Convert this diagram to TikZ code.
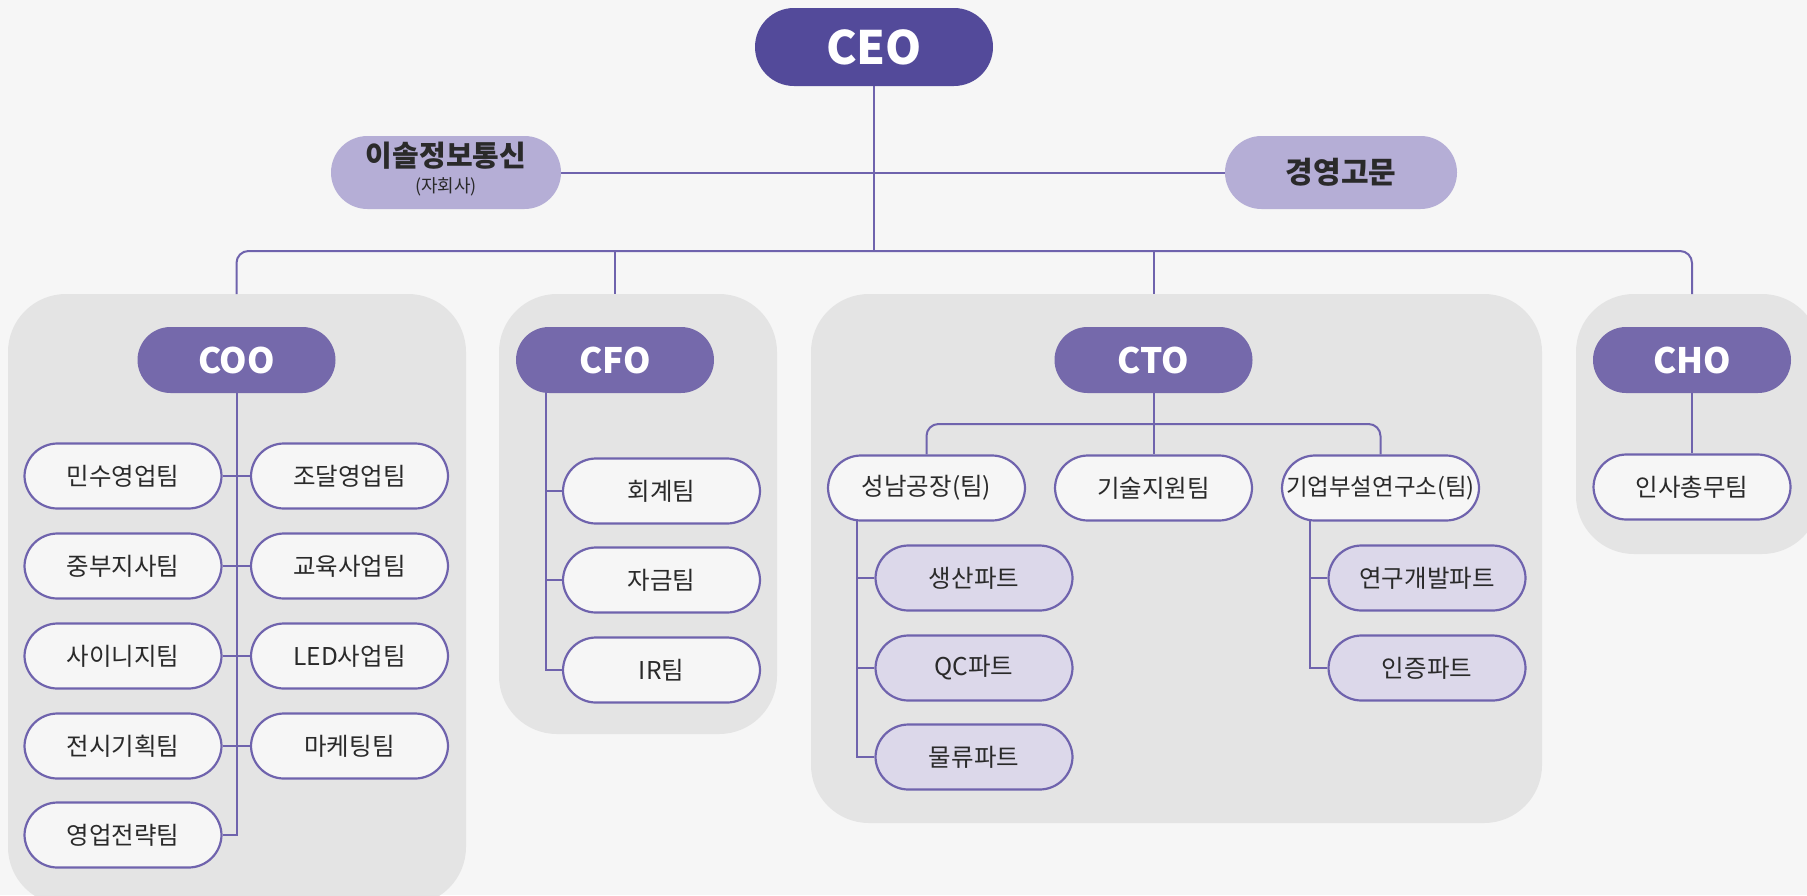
\documentclass[tikz,border=0pt]{standalone}
\usepackage{fontspec}
\setmainfont{Noto Sans CJK KR}
\usetikzlibrary{calc}
\definecolor{bgc}{HTML}{F6F6F6}
\definecolor{grp}{HTML}{E4E4E4}
\definecolor{ceoc}{HTML}{534A9A}
\definecolor{headc}{HTML}{7569AB}
\definecolor{sidec}{HTML}{B5AED6}
\definecolor{partc}{HTML}{DCD8EA}
\definecolor{linec}{HTML}{6F63AD}
\definecolor{txt}{HTML}{2A2A2A}
\pgfdeclarelayer{groups}
\pgfdeclarelayer{bg}
\pgfsetlayers{groups,bg,main}
\tikzset{
  conn/.style={draw=linec, line width=2pt},
  ceobox/.style={fill=ceoc, text=white, rounded corners=39pt, minimum width=238pt, minimum height=78pt, inner sep=0pt, font=\fontsize{46}{50}\selectfont\bfseries},
  sidebox/.style={fill=sidec, text=txt, rounded corners=36.5pt, minimum height=73pt, inner sep=0pt, font=\fontsize{29}{32}\selectfont\bfseries},
  headbox/.style={fill=headc, text=white, rounded corners=33pt, minimum width=198pt, minimum height=66pt, inner sep=0pt, font=\fontsize{35}{40}\selectfont\bfseries},
  teambox/.style={fill=bgc, draw=linec, line width=2.2pt, text=txt, rounded corners=33pt, minimum width=197pt, minimum height=65pt, inner sep=0pt, font=\fontsize{24.5}{28}\selectfont},
  partbox/.style={teambox, fill=partc},
  grpbox/.style={fill=grp, rounded corners=58pt},
}
\begin{document}
\begin{tikzpicture}[x=1pt,y=-1pt]
\useasboundingbox (0,0) rectangle (1807,895);
\begin{pgfonlayer}{groups}
\fill[bgc] (0,0) rectangle (1807,895);
\begin{scope}
\clip (0,0) rectangle (1807,895);
\fill[grpbox] (8,294) rectangle (466,905);
\fill[grpbox] (499,294) rectangle (777,734);
\fill[grpbox] (811,294) rectangle (1542,823);
\fill[grpbox] (1576,294) rectangle (1820,554);
\end{scope}
\coordinate (gtop) at (0,294);
\coordinate (busy) at (0,251);
\coordinate (ctobusy) at (0,424);
\end{pgfonlayer}

% top level
\node[ceobox] (ceo) at (874,47) {CEO};
\node[sidebox, minimum width=230pt] (sub) at (446,172.5) {\begin{tabular}{@{}c@{}}이솔정보통신\\[-6pt]{\fontsize{18}{20}\selectfont\mdseries (자회사)}\end{tabular}};
\node[sidebox, minimum width=232pt, font=\fontsize{30}{33}\selectfont\bfseries] (adv) at (1341,172.5) {경영고문};

% heads
\node[headbox] (coo) at (236.5,360) {COO};
\node[headbox] (cfo) at (615,360) {CFO};
\node[headbox] (cto) at (1153.5,360) {CTO};
\node[headbox] (cho) at (1692,360) {CHO};

% COO teams
\node[teambox] (o1) at (123,476) {민수영업팀};
\node[teambox] (o2) at (349.5,476) {조달영업팀};
\node[teambox] (o3) at (123,566) {중부지사팀};
\node[teambox] (o4) at (349.5,566) {교육사업팀};
\node[teambox] (o5) at (123,656) {사이니지팀};
\node[teambox] (o6) at (349.5,656) {LED사업팀};
\node[teambox] (o7) at (123,746) {전시기획팀};
\node[teambox] (o8) at (349.5,746) {마케팅팀};
\node[teambox] (o9) at (123,835) {영업전략팀};

% CFO teams
\node[teambox] (f1) at (661.5,491) {회계팀};
\node[teambox] (f2) at (661.5,580) {자금팀};
\node[teambox] (f3) at (661.5,670) {IR팀};

% CTO teams
\node[teambox] (t1) at (926.5,488) {성남공장(팀)};
\node[teambox] (t2) at (1153.5,488) {기술지원팀};
\node[teambox, font=\fontsize{23.5}{27}\selectfont] (t3) at (1380.5,488) {기업부설연구소(팀)};
\node[partbox] (p1) at (974,578) {생산파트};
\node[partbox] (p2) at (974,668) {QC파트};
\node[partbox] (p3) at (974,757) {물류파트};
\node[partbox] (p4) at (1427,578) {연구개발파트};
\node[partbox] (p5) at (1427,668) {인증파트};

% CHO team
\node[teambox] (h1) at (1692,487) {인사총무팀};

\coordinate (cfoT) at (546,380);
\coordinate (snT) at (857,510);
\coordinate (labT) at (1310,510);

\begin{pgfonlayer}{bg}
\draw[conn] (ceo.south) -- (ceo.south |- busy);
\draw[conn] (sub.east) -- (adv.west);
\draw[conn, rounded corners=12pt] (coo.north |- gtop) -- (coo.north |- busy) -- (cho.north |- busy) -- (cho.north |- gtop);
\draw[conn] (cfo.north |- busy) -- (cfo.north |- gtop);
\draw[conn] (cto.north |- busy) -- (cto.north |- gtop);
% COO
\draw[conn] (coo.south) -- (coo.south |- o9.east) -- (o9.east);
\draw[conn] (o1.east) -- (o2.west);
\draw[conn] (o3.east) -- (o4.west);
\draw[conn] (o5.east) -- (o6.west);
\draw[conn] (o7.east) -- (o8.west);
% CFO
\draw[conn] (cfoT) -- (cfoT |- f3.west) -- (f3.west);
\draw[conn] (cfoT |- f1.west) -- (f1.west);
\draw[conn] (cfoT |- f2.west) -- (f2.west);
% CTO
\draw[conn] (cto.south) -- (t2.north);
\draw[conn, rounded corners=12pt] (t1.north) -- (t1.north |- ctobusy) -- (t3.north |- ctobusy) -- (t3.north);
\draw[conn] (snT) -- (snT |- p3.west) -- (p3.west);
\draw[conn] (snT |- p1.west) -- (p1.west);
\draw[conn] (snT |- p2.west) -- (p2.west);
\draw[conn] (labT) -- (labT |- p5.west) -- (p5.west);
\draw[conn] (labT |- p4.west) -- (p4.west);
% CHO
\draw[conn] (cho.south) -- (h1.north);
\end{pgfonlayer}
\end{tikzpicture}
\end{document}
